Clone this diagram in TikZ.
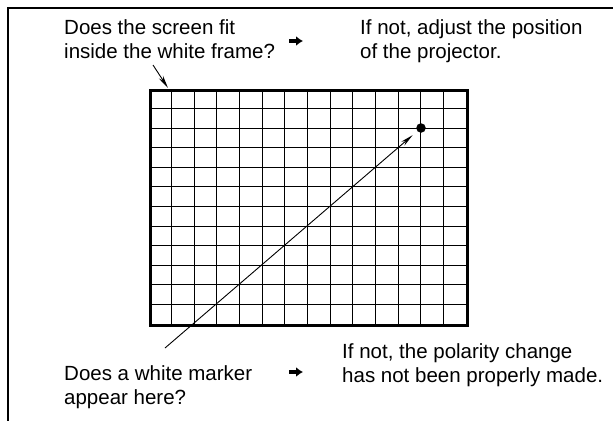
\documentclass[tikz,border=0pt]{standalone}
\usepackage{fontspec}
\setmainfont{Liberation Sans}
\usepackage{tikz}
\usetikzlibrary{positioning,arrows.meta}

\begin{document}
\begin{tikzpicture}[x=1pt,y=-1pt,
  every node/.style={font=\fontsize{20.5}{24}\selectfont,inner sep=0pt,align=left},
  gridline/.style={line width=1.1pt},
  pointer/.style={line width=0.9pt,-{Stealth[length=13pt,width=5pt]}},
  goarrow/.style={line width=3.6pt,-{Latex[length=7pt,width=10pt]}}]
  \useasboundingbox (0,0) rectangle (613,421);
  % outer border (top and left only)
  \draw[line width=1.4pt] (613,8) -- (8,8) -- (8,421);
  % the screen with its test grid
  \node[draw,line width=3pt,minimum width=317pt,minimum height=235pt,anchor=north west] (screen) at (149,89) {};
  \foreach \i in {1,...,13}
    \draw[gridline] ({149+\i*317/14},89) -- ({149+\i*317/14},324);
  \foreach \j in {1,...,11}
    \draw[gridline] (149,{89+\j*235/12}) -- (466,{89+\j*235/12});
  \node[circle,fill,minimum size=9.5pt] (marker) at (421,128) {};
  % texts
  \node[anchor=north west] (fitq) at (64,19) {Does the screen fit\\inside the white frame?};
  \node[anchor=north west] (fita) at (360,19) {If not, adjust the position\\of the projector.};
  \node[anchor=north west] (markq) at (64,365) {Does a white marker\\appear here?};
  \node[anchor=north west] (marka) at (342,343) {If not, the polarity change\\has not been properly made.};
  % pointers
  \coordinate (fittail) at (153,65);
  \coordinate (corner) at (168,88);
  \draw[pointer] (fittail) -- (corner);
  \coordinate (marktail) at (165,348);
  \draw[pointer,shorten >=6pt] (marktail) -- (marker);
  % small arrows between question and answer
  \coordinate (a1) at (289,41);
  \coordinate (b1) at (303,41);
  \draw[goarrow] (a1) -- (b1);
  \coordinate (a2) at (289,372);
  \coordinate (b2) at (303,372);
  \draw[goarrow] (a2) -- (b2);
\end{tikzpicture}
\end{document}
